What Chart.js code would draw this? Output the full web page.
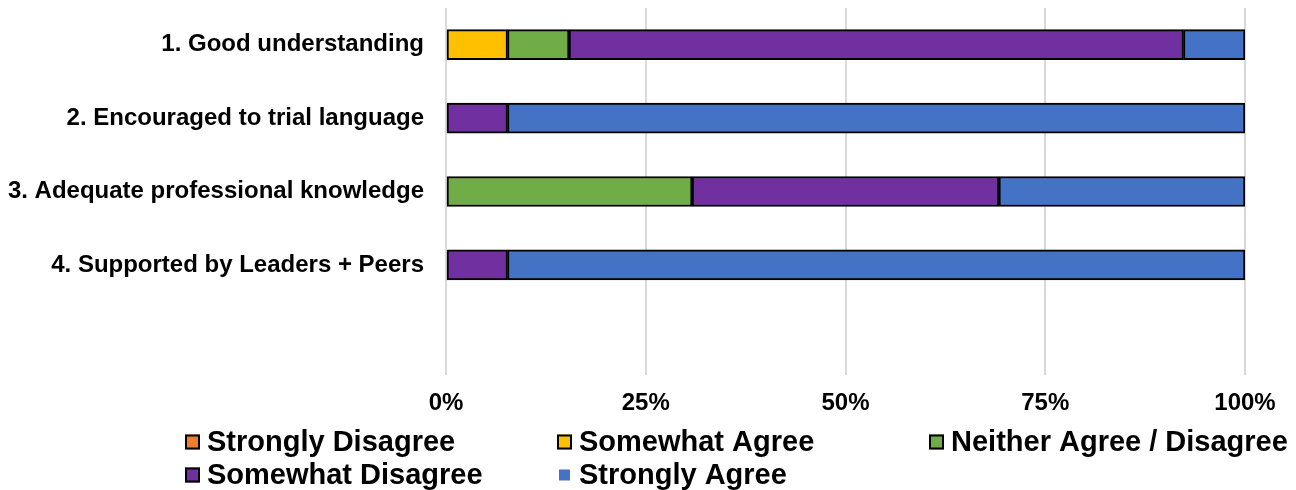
<!DOCTYPE html>
<html>
<head>
<meta charset="utf-8">
<script src="https://cdn.jsdelivr.net/npm/chart.js@4/dist/chart.umd.min.js"></script>
<style>
  html, body { margin: 0; padding: 0; background: #ffffff; }
  #wrap { width: 1296px; height: 490px; position: relative; }
</style>
</head>
<body>
<div id="wrap"><canvas id="chart" width="1296" height="490"></canvas></div>
<script>
// Survey statements (the last, blank slot leaves room under the bars)
const categories = [
  '1. Good understanding',
  '2. Encouraged to trial language',
  '3. Adequate professional knowledge',
  '4. Supported by Leaders + Peers',
  ''
];

// Share of responses (%) per statement
const stronglyDisagree     = [0,    0,    0,    0,    null];
const somewhatAgree        = [7.7,  0,    0,    0,    null];
const neitherAgreeDisagree = [7.7,  0,    30.8, 0,    null];
const somewhatDisagree     = [76.9, 7.7,  38.4, 7.7,  null];
const stronglyAgree        = [7.7,  92.3, 30.8, 92.3, null];

const seriesNames = [
  'Strongly Disagree',
  'Somewhat Agree',
  'Neither Agree / Disagree',
  'Somewhat Disagree',
  'Strongly Agree'
];
const seriesColors = ['#ED7D31', '#FFC000', '#70AD47', '#7030A0', '#4472C4'];

// Percentage axis ticks
const xTickValues = [0, 25, 50, 75, 100];
const xTickLabels = ['0%', '25%', '50%', '75%', '100%'];

const FONT = "'Liberation Sans', Arial, Helvetica, sans-serif";

const seriesData = [stronglyDisagree, somewhatAgree, neitherAgreeDisagree, somewhatDisagree, stronglyAgree];

const datasets = seriesNames.map((name, i) => ({
  label: name,
  data: seriesData[i],
  backgroundColor: seriesColors[i],
  borderColor: '#000000',
  borderWidth: 2,
  borderSkipped: false,
  barThickness: 30,
  // the last series shows a plain marker in the key
  plainKey: i === 4
}));

// Key laid out on a three-column grid below the axis
const columnKey = {
  id: 'columnKey',
  afterDraw(chart) {
    const ctx = chart.ctx;
    const colStart = 185, colStep = 372, rowStart = 442, rowStep = 33, box = 15;
    ctx.save();
    ctx.font = 'bold 29px ' + FONT;
    ctx.textBaseline = 'middle';
    ctx.textAlign = 'left';
    chart.data.datasets.forEach((ds, i) => {
      const col = i % 3, row = Math.floor(i / 3);
      const x = colStart + col * colStep;
      const y = rowStart + row * rowStep;
      if (ds.plainKey) {
        ctx.fillStyle = ds.backgroundColor;
        ctx.fillRect(x + 2, y - box / 2 + 2, box - 4, box - 4);
      } else {
        ctx.fillStyle = ds.backgroundColor;
        ctx.fillRect(x, y - box / 2, box, box);
        ctx.strokeStyle = '#000000';
        ctx.lineWidth = 2;
        ctx.strokeRect(x + 1, y - box / 2 + 1, box - 2, box - 2);
      }
      ctx.fillStyle = '#000000';
      ctx.fillText(ds.label, x + box + 7, y + 1);
    });
    ctx.restore();
  }
};

new Chart(document.getElementById('chart'), {
  type: 'bar',
  data: { labels: categories, datasets },
  options: {
    indexAxis: 'y',
    responsive: false,
    animation: false,
    layout: { padding: { top: 8, right: 51, bottom: 0, left: 0 } },
    plugins: {
      legend: { display: false },
      tooltip: { enabled: false }
    },
    scales: {
      x: {
        stacked: true,
        min: 0,
        max: 100,
        afterBuildTicks(scale) {
          scale.ticks = xTickValues.map(v => ({ value: v }));
        },
        afterFit(scale) {
          scale.height = 115;
          scale.paddingLeft = 0;
          scale.paddingRight = 0;
        },
        ticks: {
          color: '#000000',
          font: { family: FONT, size: 24, weight: 'bold' },
          padding: 14,
          callback: (v, idx) => xTickLabels[idx]
        },
        grid: { color: '#d9d9d9', lineWidth: 2, drawTicks: false },
        border: { display: false }
      },
      y: {
        stacked: true,
        afterFit(scale) {
          scale.width = 446;
          scale.paddingTop = 0;
          scale.paddingBottom = 0;
        },
        ticks: {
          color: '#000000',
          font: { family: FONT, size: 24, weight: 'bold' },
          padding: 22
        },
        grid: { display: false, drawTicks: false },
        border: { display: false }
      }
    }
  },
  plugins: [columnKey]
});
</script>
</body>
</html>
